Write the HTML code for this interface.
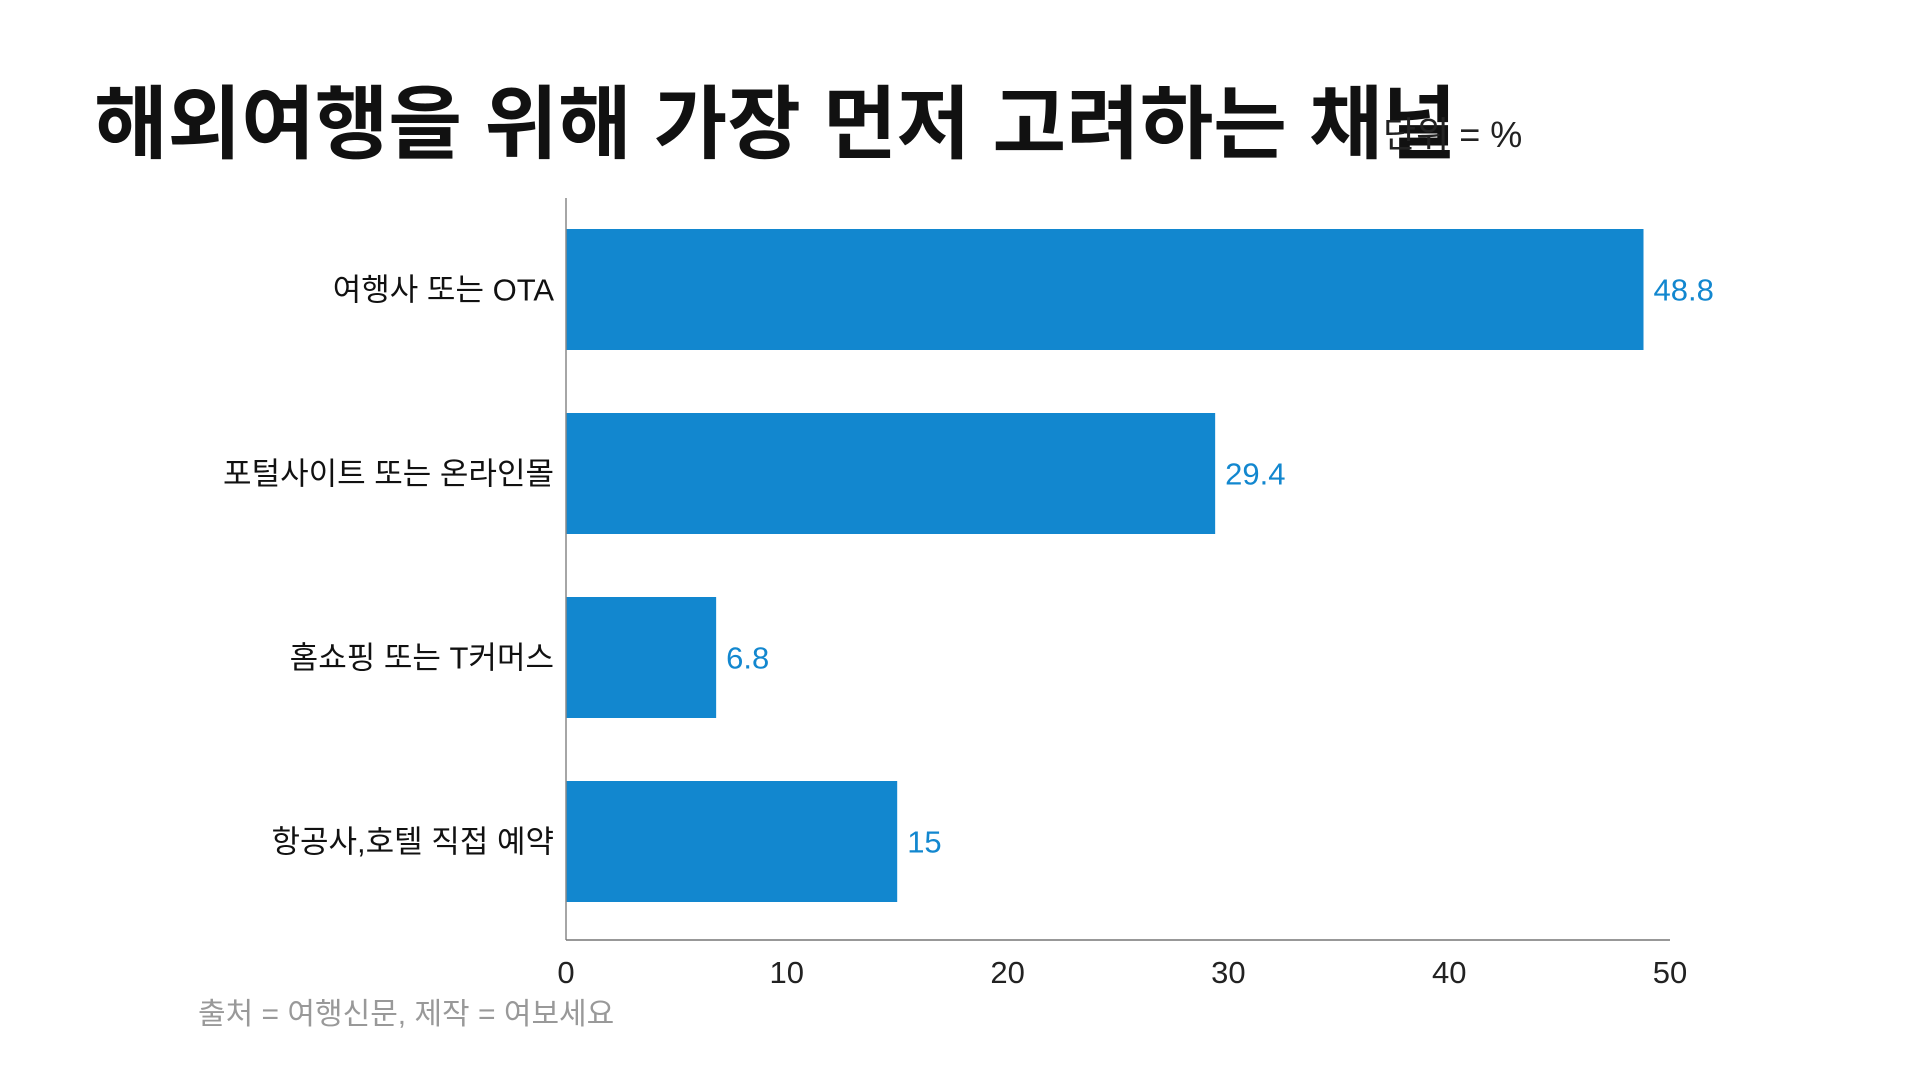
<!DOCTYPE html>
<html><head><meta charset="utf-8"><style>
body{margin:0;width:1920px;height:1080px;background:#fff;overflow:hidden;font-family:"Liberation Sans","Noto Sans CJK KR",sans-serif;}
svg text{font-family:"Liberation Sans","Noto Sans CJK KR",sans-serif;}
</style></head><body>
<svg width="1920" height="1080">
<text x="94" y="152" font-size="80" font-weight="bold" fill="#111">해외여행을 위해 가장 먼저 고려하는 채널</text>
<text x="1383" y="147" font-size="36" fill="#222">단위 = %</text>
<g id="plot"></g>
<text x="198" y="1024" font-size="30" fill="#999">출처 = 여행신문, 제작 = 여보세요</text>
</svg>
<script>
const categories=["여행사 또는 OTA","포털사이트 또는 온라인몰","홈쇼핑 또는 T커머스","항공사,호텔 직접 예약"];
const values=[48.8,29.4,6.8,15];
const ticks=[0,10,20,30,40,50];
const NS="http://www.w3.org/2000/svg";
const g=document.getElementById('plot');
const x0=566,x1=1670,xmax=50,top0=229,step=184,bh=121,base=940;
const xs=v=>x0+(x1-x0)*v/xmax;
function mk(t,a){const e=document.createElementNS(NS,t);for(const k in a)e.setAttribute(k,a[k]);g.appendChild(e);return e;}
categories.forEach((c,i)=>{
 const y=top0+i*step;
 const r=mk('rect',{x:xs(0),y:y,width:xs(values[i])-xs(0),height:bh,fill:'#1287cf'});
 
 
 const l=mk('text',{x:554,y:y+bh/2+11,'font-size':31,'text-anchor':'end',fill:'#111'});l.textContent=c;
 
 
 const v=mk('text',{x:xs(values[i])+10,y:y+bh/2+11,'font-size':31,fill:'#1287cf'});v.textContent=values[i];
 
 
});
const ax=mk('line',{x1:x0,y1:198,x2:x0,y2:base,stroke:'#888','stroke-width':1.5});


const bx=mk('line',{x1:x0,y1:base,x2:x1,y2:base,stroke:'#777','stroke-width':1.5});


ticks.forEach(t=>{
 const e=mk('text',{x:xs(t),y:base+43,'font-size':31,'text-anchor':'middle',fill:'#222'});e.textContent=t;
 
 
});
</script>
</body></html>
